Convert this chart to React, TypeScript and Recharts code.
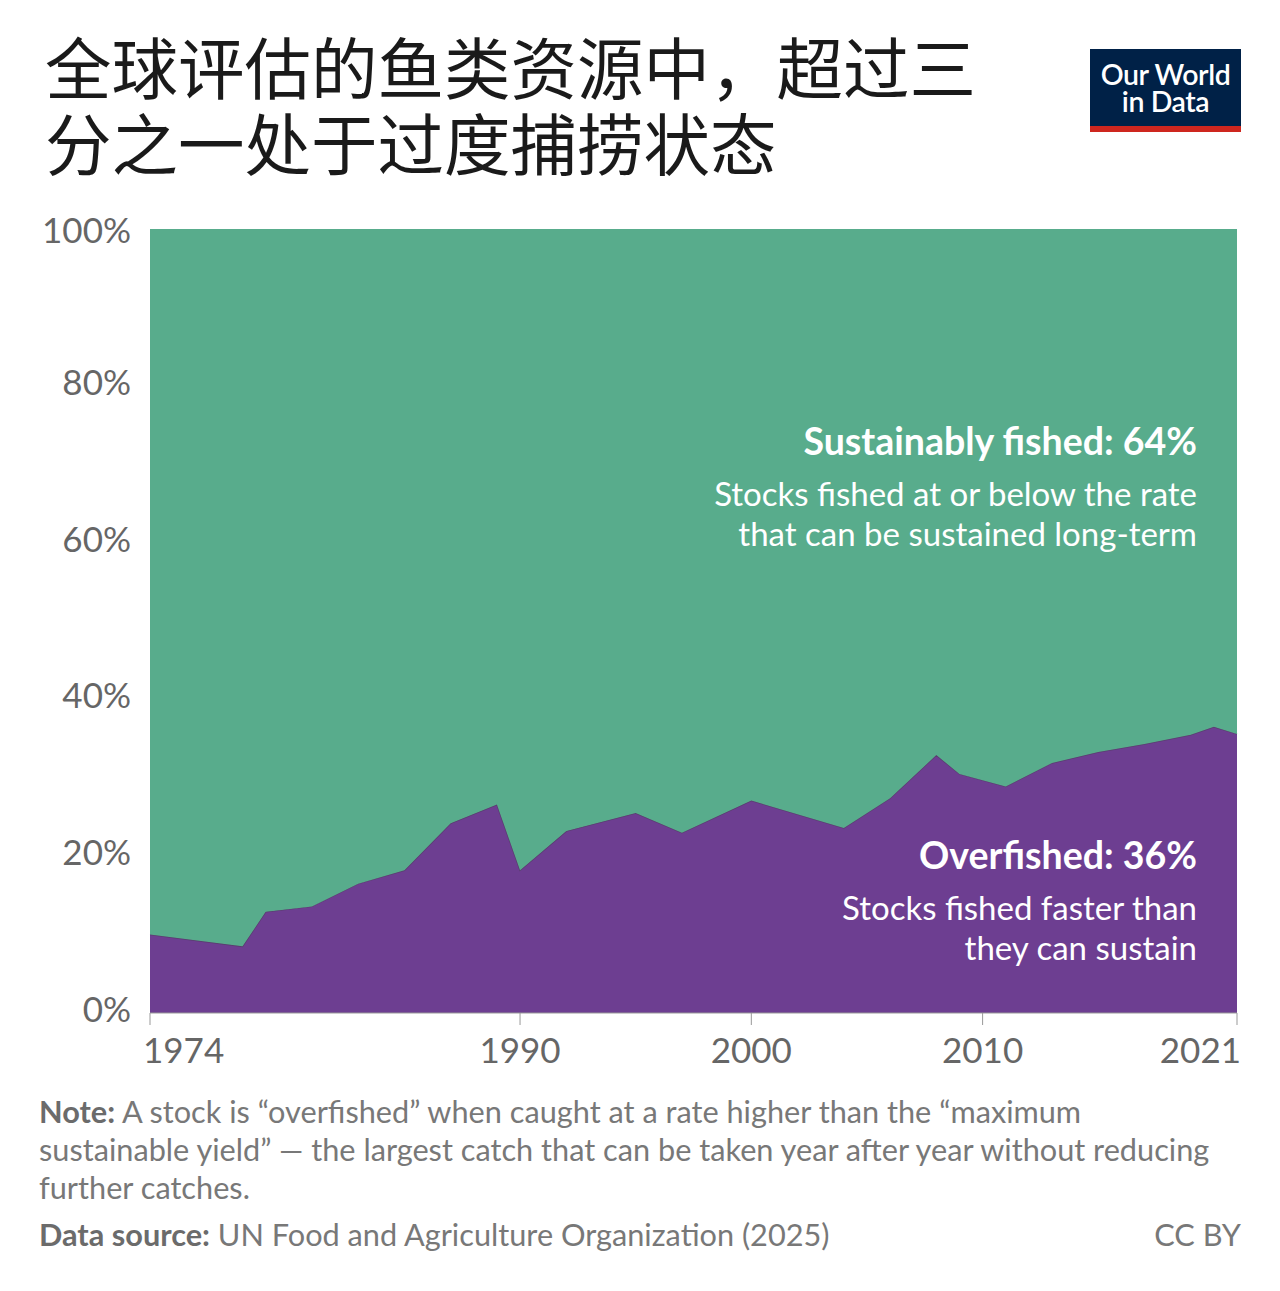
import React from "react";
import { AreaChart, Area, XAxis, YAxis } from "recharts";

// Share of assessed fish stocks, by year (percent)
const years = [1974, 1978, 1979, 1981, 1983, 1985, 1987, 1989, 1990, 1992, 1995, 1997, 2000, 2004, 2006, 2008, 2009, 2011, 2013, 2015, 2017, 2019, 2020, 2021];
const overfished = [10.0, 8.5, 12.9, 13.6, 16.5, 18.2, 24.2, 26.6, 18.2, 23.2, 25.5, 23.0, 27.1, 23.6, 27.4, 32.9, 30.5, 28.9, 31.9, 33.3, 34.3, 35.5, 36.5, 35.6];
const sustainable = [90.0, 91.5, 87.1, 86.4, 83.5, 81.8, 75.8, 73.4, 81.8, 76.8, 74.5, 77.0, 72.9, 76.4, 72.6, 67.1, 69.5, 71.1, 68.1, 66.7, 65.7, 64.5, 63.5, 64.4];

const xTicks = [1974, 1990, 2000, 2010, 2021];
const yTicks = [0, 20, 40, 60, 80, 100];

const GREEN = "#58AC8C";
const PURPLE = "#6D3E91";
const FONT = "Lato, 'Noto Sans', sans-serif";

const data = years.map((year, i) => ({
  year,
  overfished: overfished[i],
  sustainable: sustainable[i],
}));

const lastSustainable = Math.round(sustainable[sustainable.length - 1]);
const lastOverfished = Math.round(overfished[overfished.length - 1]);

const YTick = (props: any) => {
  const { x, y, payload } = props;
  const dy = payload.value === 100 ? 0 : -5;
  return (
    <text
      x={x}
      y={y + dy}
      textAnchor="end"
      dominantBaseline="central"
      fill="#666"
      fontSize={35}
      fontFamily={FONT}
    >
      {payload.value}%
    </text>
  );
};

const XTick = (props: any) => {
  const { x, y, payload } = props;
  const v = payload.value;
  let anchor: "start" | "middle" | "end" = "middle";
  let dx = 0;
  if (v === xTicks[0]) {
    anchor = "start";
    dx = -7;
  } else if (v === xTicks[xTicks.length - 1]) {
    anchor = "end";
    dx = 4;
  }
  return (
    <text
      x={x + dx}
      y={y + 38}
      textAnchor={anchor}
      fill="#666"
      fontSize={35}
      fontFamily={FONT}
    >
      {v}
    </text>
  );
};

const titleStyle: React.CSSProperties = {
  position: "absolute",
  left: 45,
  fontFamily: "'Noto Sans CJK SC', sans-serif",
  fontSize: 66.5,
  lineHeight: "66px",
  fontWeight: 400,
  color: "#1a1a1a",
  whiteSpace: "nowrap",
};

const logoLine: React.CSSProperties = {
  position: "absolute",
  left: 0,
  width: 151,
  textAlign: "center",
  color: "#fff",
  fontSize: 28.5,
  lineHeight: "26px",
  fontWeight: 600,
  letterSpacing: -0.4,
  whiteSpace: "nowrap",
};

export default function App() {
  return (
    <div
      style={{
        position: "absolute",
        left: 0,
        top: 0,
        width: 1280,
        height: 1291,
        background: "#fff",
        fontFamily: FONT,
        overflow: "hidden",
      }}
    >
      {/* Title */}
      <div style={{ ...titleStyle, top: 32 }}>全球评估的鱼类资源中，超过三</div>
      <div style={{ ...titleStyle, top: 108 }}>分之一处于过度捕捞状态</div>

      {/* Logo */}
      <div
        style={{
          position: "absolute",
          left: 1090,
          top: 49,
          width: 151,
          height: 83,
          background: "#002147",
        }}
      >
        <div style={{ ...logoLine, top: 12 }}>Our World</div>
        <div style={{ ...logoLine, top: 39 }}>in Data</div>
        <div
          style={{
            position: "absolute",
            left: 0,
            bottom: 0,
            width: 151,
            height: 6,
            background: "#CE261E",
          }}
        />
      </div>

      {/* Chart */}
      <div style={{ position: "absolute", left: 0, top: 0 }}>
        <AreaChart
          width={1280}
          height={1073}
          data={data}
          margin={{ top: 229, right: 43, bottom: 0, left: 0 }}
        >
          <XAxis
            dataKey="year"
            type="number"
            domain={[1974, 2021]}
            ticks={xTicks}
            height={60}
            tickSize={12}
            tickMargin={0}
            axisLine={{ stroke: "#999", strokeWidth: 1 }}
            tickLine={{ stroke: "#999", strokeWidth: 1 }}
            tick={<XTick />}
            interval={0}
          />
          <YAxis
            type="number"
            domain={[0, 100]}
            ticks={yTicks}
            width={150}
            axisLine={false}
            tickLine={false}
            tickSize={0}
            tickMargin={19}
            tick={<YTick />}
            interval={0}
          />
          <Area
            type="linear"
            dataKey="overfished"
            stackId="1"
            fill={PURPLE}
            fillOpacity={1}
            stroke="#5A3E70"
            strokeWidth={1.5}
            isAnimationActive={false}
          />
          <Area
            type="linear"
            dataKey="sustainable"
            stackId="1"
            fill={GREEN}
            fillOpacity={1}
            stroke="none"
            isAnimationActive={false}
          />
        </AreaChart>
      </div>

      {/* Series annotations */}
      <div
        style={{
          position: "absolute",
          left: 0,
          top: 420,
          width: 1197,
          textAlign: "right",
          color: "#fff",
          whiteSpace: "nowrap",
        }}
      >
        <div style={{ fontSize: 37.5, fontWeight: 700, lineHeight: "42px" }}>
          Sustainably fished: {lastSustainable}%
        </div>
        <div style={{ fontSize: 33, lineHeight: "40px", marginTop: 11 }}>
          <div>Stocks fished at or below the rate</div>
          <div>that can be sustained long-term</div>
        </div>
      </div>
      <div
        style={{
          position: "absolute",
          left: 0,
          top: 834,
          width: 1197,
          textAlign: "right",
          color: "#fff",
          whiteSpace: "nowrap",
        }}
      >
        <div style={{ fontSize: 37.5, fontWeight: 700, lineHeight: "42px" }}>
          Overfished: {lastOverfished}%
        </div>
        <div style={{ fontSize: 33, lineHeight: "40px", marginTop: 11 }}>
          <div>Stocks fished faster than</div>
          <div>they can sustain</div>
        </div>
      </div>

      {/* Footer */}
      <div
        style={{
          position: "absolute",
          left: 39,
          top: 1093,
          width: 1220,
          fontSize: 30.7,
          lineHeight: "38px",
          color: "#787878",
          whiteSpace: "nowrap",
        }}
      >
        <div>
          <span style={{ fontWeight: 700, color: "#6b6b6b" }}>Note:</span> A stock is “overfished” when caught at a rate higher than the “maximum
        </div>
        <div>sustainable yield” — the largest catch that can be taken year after year without reducing</div>
        <div>further catches.</div>
      </div>
      <div
        style={{
          position: "absolute",
          left: 39,
          top: 1216,
          fontSize: 30.7,
          lineHeight: "38px",
          color: "#787878",
          whiteSpace: "nowrap",
        }}
      >
        <span style={{ fontWeight: 700, color: "#6b6b6b" }}>Data source:</span> UN Food and Agriculture Organization (2025)
      </div>
      <div
        style={{
          position: "absolute",
          right: 39,
          top: 1216,
          fontSize: 30.7,
          lineHeight: "38px",
          color: "#787878",
        }}
      >
        CC BY
      </div>
    </div>
  );
}
